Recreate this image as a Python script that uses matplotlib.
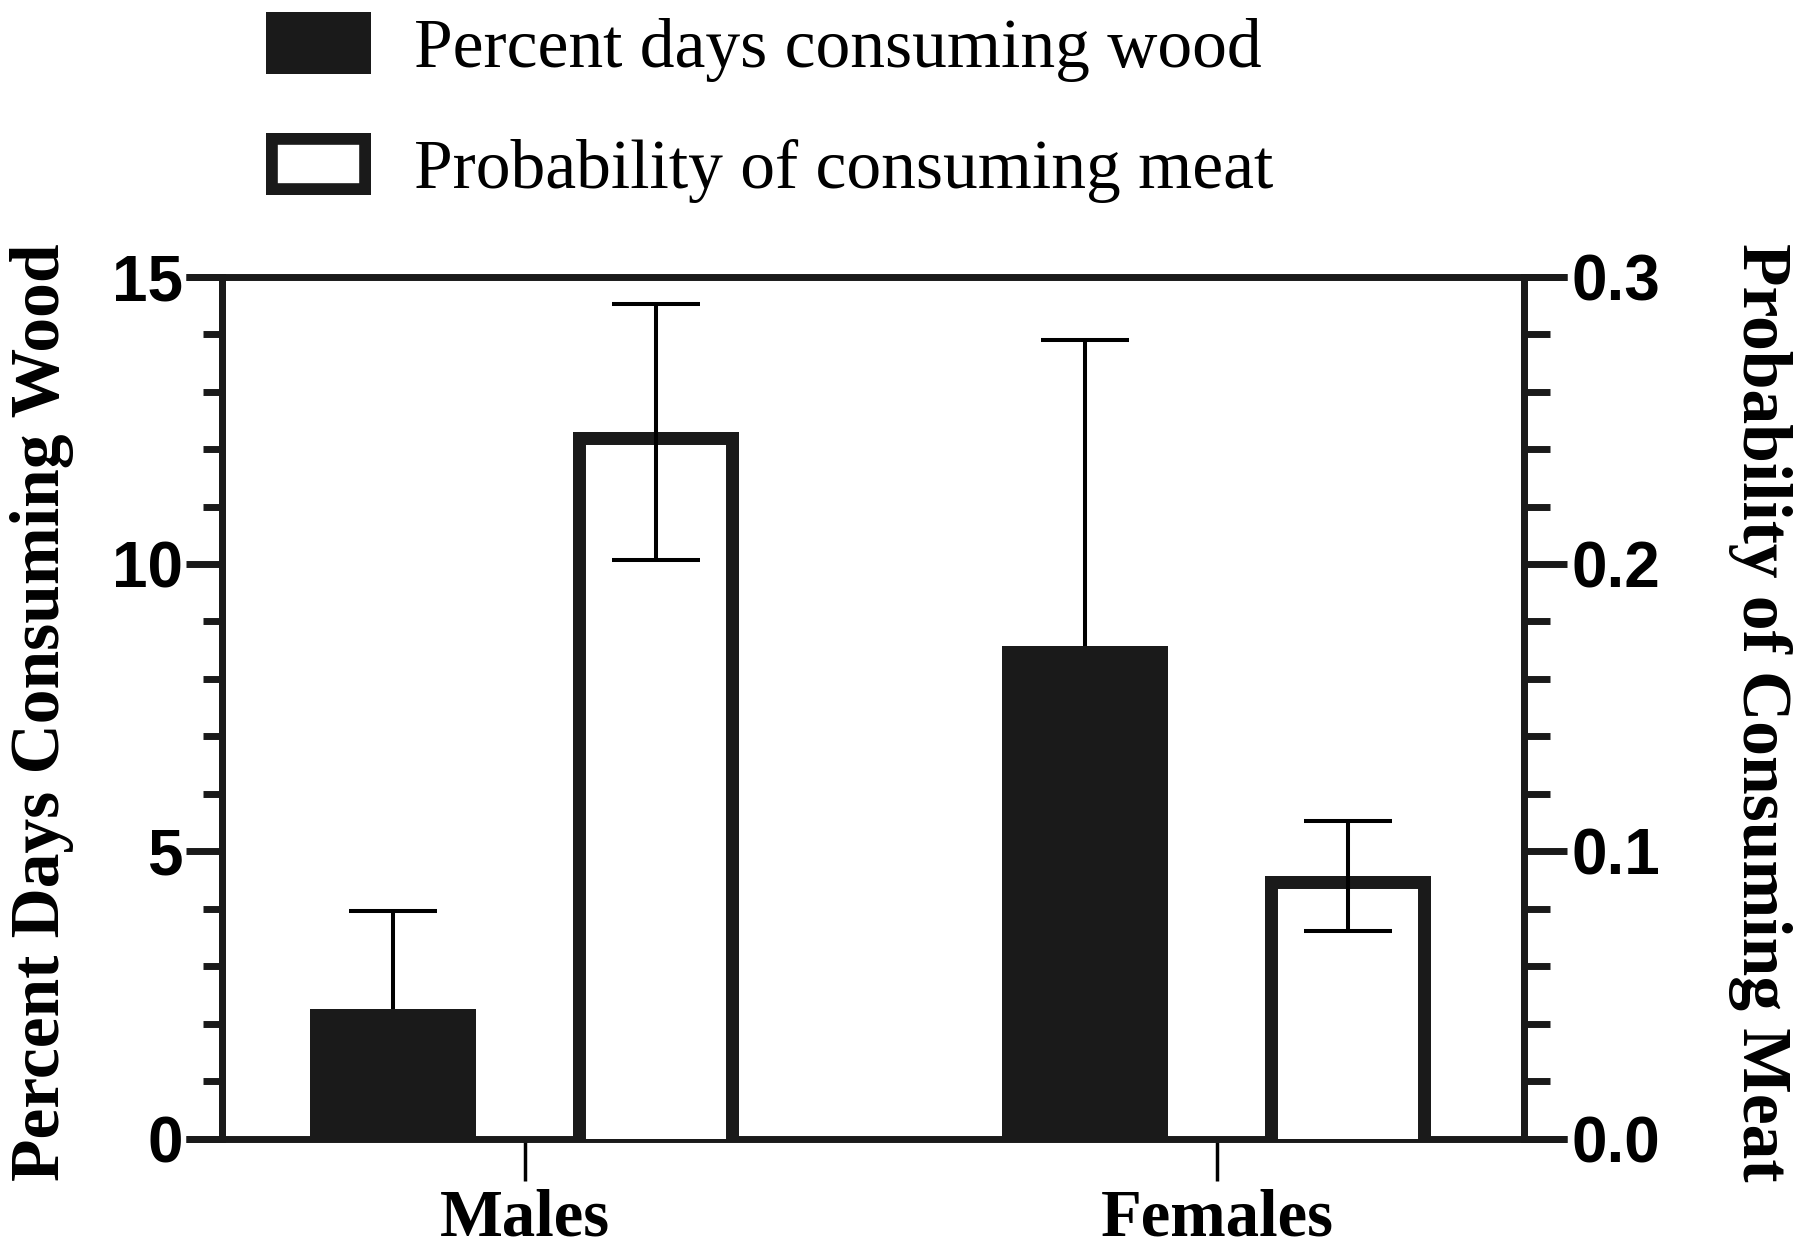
import matplotlib
matplotlib.use('Agg')
import matplotlib.pyplot as plt
import numpy as np
from matplotlib.patches import Patch
from matplotlib.ticker import MultipleLocator
from matplotlib.transforms import TransformedPatchPath

groups = ['Males', 'Females']
wood = [2.25, 8.57]          # percent days consuming wood (left axis)
wood_err = [1.72, 5.33]
meat = [0.246, 0.0915]       # probability of consuming meat (right axis)
meat_err = [0.0445, 0.0192]

DARK = '#1a1a1a'
SERIF = 'Liberation Serif'
SANS = 'Liberation Sans'

fig = plt.figure(figsize=(18, 12.47), dpi=100)
ax = fig.add_axes([0.1231, 0.0869, 0.7238, 0.6912])
ax2 = ax.twinx()

x = np.arange(len(groups))
off = 0.19
w = 0.24

# black bars - wood
ax.bar(x - off, wood, w, color=DARK, zorder=2)
eb = ax.errorbar(x - off, wood, yerr=[[0, 0], wood_err], fmt='none', ecolor='black',
                 elinewidth=2.9, capsize=32, capthick=2.9, zorder=1)
for cl in eb[1]:
    if np.allclose(cl.get_ydata(), wood):
        cl.set_visible(False)

# white bars - meat; border kept inside the bar (prism style), bottom edge hidden under axis
sink = 0.01
bars2 = ax2.bar(x + off, np.array(meat) + sink, w, bottom=-sink, facecolor='white',
                edgecolor=DARK, linewidth=18.7, zorder=2)
for r in bars2:
    r.set_clip_path(TransformedPatchPath(r))   # keeps the axes clip box too
ax2.errorbar(x + off, meat, yerr=meat_err, fmt='none', ecolor='black',
             elinewidth=2.9, capsize=32, capthick=2.9, zorder=3)

ax.set_xlim(-0.4377, 1.4443)
ax.set_ylim(0, 15)
ax2.set_ylim(0, 0.3)

ax.yaxis.set_major_locator(MultipleLocator(5))
ax.yaxis.set_minor_locator(MultipleLocator(1))
ax2.yaxis.set_major_locator(MultipleLocator(0.1))
ax2.yaxis.set_minor_locator(MultipleLocator(0.02))
ax2.set_yticks([0, 0.1, 0.2, 0.3])
ax2.set_yticklabels(['0.0', '0.1', '0.2', '0.3'])

ax.set_xticks(x)
ax.set_xticklabels(groups, fontfamily=SERIF, fontweight='bold', fontsize=48)

for a in (ax, ax2):
    for s in ('top', 'bottom'):
        a.spines[s].set_visible(False)
    for s in ('left', 'right'):
        a.spines[s].set_linewidth(5)
        a.spines[s].set_color(DARK)

ax.tick_params(axis='y', which='major', length=26, width=5, pad=2, labelsize=46, color=DARK)
ax.tick_params(axis='y', which='minor', length=14, width=5, color=DARK)
ax2.tick_params(axis='y', which='major', length=31, width=5, pad=3, labelsize=46, color=DARK)
ax2.tick_params(axis='y', which='minor', length=19, width=5, color=DARK)
ax.tick_params(axis='x', length=30, width=2.5, pad=6, color='black')
for lab in ax.get_yticklabels() + ax2.get_yticklabels():
    lab.set_fontfamily(SANS)
    lab.set_fontweight('bold')

# top and bottom frame lines running out to the tick ends
for yy in (0, 1):
    ax.plot([-0.0276, 1.033], [yy, yy], transform=ax.transAxes, color=DARK, lw=5,
            solid_capstyle='butt', clip_on=False, zorder=5)

ax.set_ylabel('Percent Days Consuming Wood', fontfamily=SERIF, fontweight='bold',
              fontsize=50, va='center')
ax.yaxis.set_label_coords(-0.138, 0.495)
ax2.set_ylabel('Probability of Consuming Meat', fontfamily=SERIF, fontweight='bold',
               fontsize=50, rotation=270, va='center')
ax2.yaxis.set_label_coords(1.181, 0.495)

handles = [Patch(facecolor=DARK, edgecolor='none'),
           Patch(facecolor='white', edgecolor=DARK, linewidth=17)]
leg = fig.legend(handles, ['Percent days consuming wood', 'Probability of consuming meat'],
                 loc='upper left', bbox_to_anchor=(0.1439, 0.996), frameon=False,
                 prop={'family': SERIF, 'size': 50}, handlelength=1.51, handleheight=1.0,
                 handletextpad=0.62, labelspacing=0.74, borderpad=0.1, borderaxespad=0)
p = leg.get_patches()[1]
p.set_clip_path(TransformedPatchPath(p))

fig.savefig('out.png', dpi=100, facecolor='white')
